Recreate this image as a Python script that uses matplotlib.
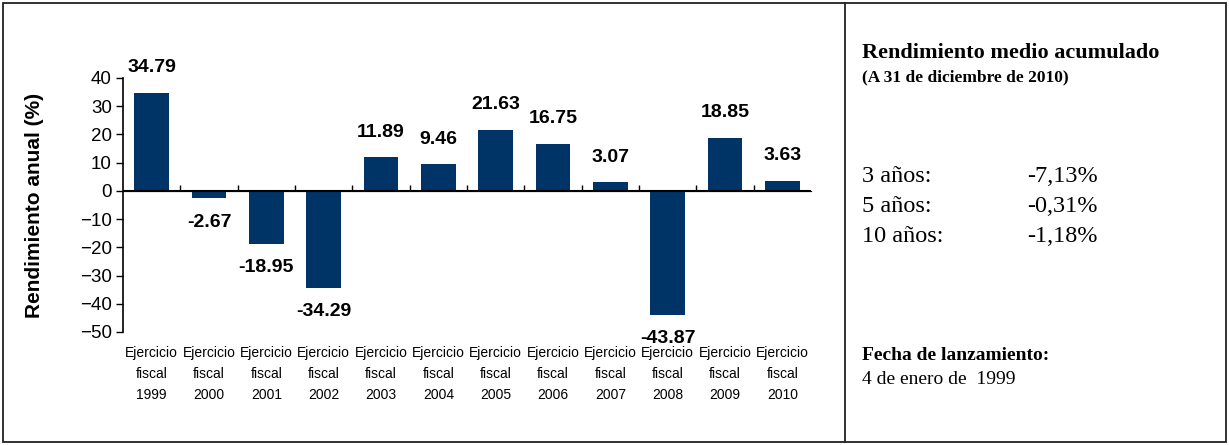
import numpy as np
import matplotlib.pyplot as plt
from matplotlib.patches import Rectangle
from matplotlib.lines import Line2D

# Datos
years = ['1999', '2000', '2001', '2002', '2003', '2004', '2005', '2006',
         '2007', '2008', '2009', '2010']
returns = [34.79, -2.67, -18.95, -34.29, 11.89, 9.46, 21.63, 16.75,
           3.07, -43.87, 18.85, 3.63]
periods = ['3 años:', '5 años:', '10 años:']
period_returns = ['-7,13%', '-0,31%', '-1,18%']

bar_color = '#003366'
sans = 'Liberation Sans'
serif = 'Liberation Serif'

fig = plt.figure(figsize=(12.29, 4.45), dpi=100)

# Marco exterior y separador
fig.patches.append(Rectangle((3 / 1229, 3 / 445), 1223 / 1229, 439 / 445,
                             transform=fig.transFigure, fill=False,
                             edgecolor='#222222', linewidth=1.3))
fig.lines.append(Line2D([845 / 1229, 845 / 1229], [3 / 445, 442 / 445],
                        transform=fig.transFigure, color='#222222', linewidth=1.3))

ax = fig.add_axes([123 / 1229, 1 - 332 / 445, 688 / 1229, 254 / 445])
x = np.arange(len(years))
ax.bar(x, returns, width=0.6, color=bar_color, zorder=2)

ax.set_xlim(-0.5, len(years) - 0.5)
ax.set_ylim(-50, 40)
ax.set_yticks(np.arange(-50, 41, 10))
ax.tick_params(axis='y', labelsize=13.5, length=5, width=1, pad=3)
for lab in ax.get_yticklabels():
    lab.set_fontfamily(sans)

for s in ['top', 'right', 'bottom']:
    ax.spines[s].set_visible(False)
ax.spines['left'].set_linewidth(1.2)

# Eje en cero con marcas entre categorías
ax.axhline(0, color='black', linewidth=1.5, zorder=3)
zero_axis = ax.secondary_xaxis(50 / 90)
zero_axis.spines['bottom'].set_visible(False)
zero_axis.set_xticks(np.arange(0.5, len(years) - 0.5, 1))
zero_axis.set_xticklabels([])
zero_axis.tick_params(length=4, width=1)

# Etiquetas de categoría
ax.set_xticks(x)
ax.set_xticklabels([f'Ejercicio\nfiscal\n{y}' for y in years],
                   fontsize=10, fontfamily=sans, linespacing=1.65)
ax.tick_params(axis='x', length=0, pad=10)

ax.set_ylabel('Rendimiento anual (%)', fontsize=15, fontweight='bold',
              fontfamily=sans, labelpad=26)

# Valores sobre las barras
for xi, v in zip(x, returns):
    off = 18 if v >= 0 else -17
    ax.annotate(f'{v:.2f}', (xi, v), xytext=(0, off), textcoords='offset points',
                ha='center', va='center', fontsize=14, fontweight='bold',
                fontfamily=sans)

# Panel derecho
tx = 862 / 1229
fig.text(tx, 1 - 53 / 445, 'Rendimiento medio acumulado', fontsize=16,
         fontweight='bold', fontfamily=serif, va='center')
fig.text(tx, 1 - 77 / 445, '(A 31 de diciembre de 2010)', fontsize=12.5,
         fontweight='bold', fontfamily=serif, va='center')
for i, (p, r) in enumerate(zip(periods, period_returns)):
    yy = 1 - (176 + 30 * i) / 445
    fig.text(tx, yy, p, fontsize=17.5, fontfamily=serif, va='center')
    fig.text(1027 / 1229, yy, r, fontsize=17.5, fontfamily=serif, va='center')
fig.text(tx, 1 - 355 / 445, 'Fecha de lanzamiento:', fontsize=14,
         fontweight='bold', fontfamily=serif, va='center')
fig.text(tx, 1 - 379 / 445, '4 de enero de  1999', fontsize=14,
         fontfamily=serif, va='center')

fig.savefig('out.png', dpi=100)
